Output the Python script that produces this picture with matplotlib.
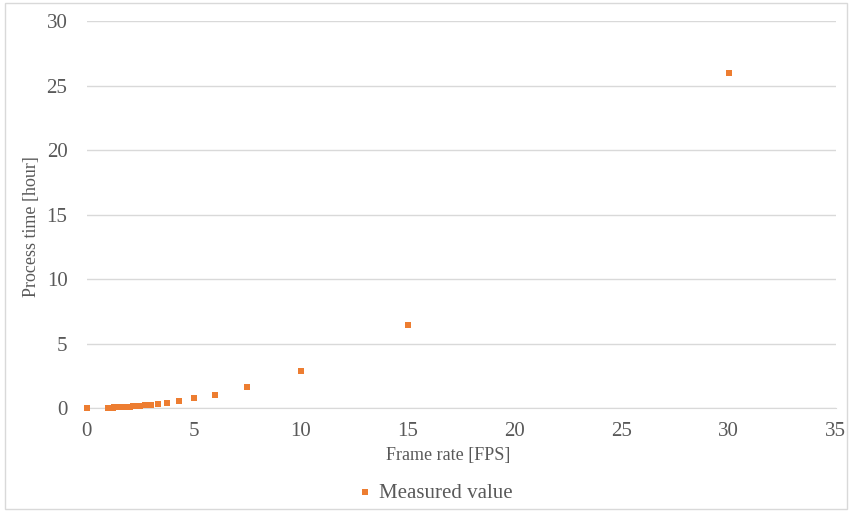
import matplotlib.pyplot as plt
from matplotlib.patches import Rectangle

# frame rate [FPS] and measured process time [hour]
frame_rate = [0, 30, 15, 10, 7.5, 6, 5, 4.29, 3.75, 3.33, 3.0, 2.73, 2.5, 2.31, 2.14, 2.0,
              1.88, 1.76, 1.67, 1.58, 1.5, 1.43, 1.36, 1.30, 1.25, 1.2, 1.15, 1.11, 1.07, 1.03, 1.0]
process_time = [0, 26.0, 6.4, 2.9, 1.65, 1.05, 0.75, 0.55, 0.42, 0.33, 0.27, 0.22, 0.18, 0.16,
                0.13, 0.12, 0.10, 0.09, 0.08, 0.07, 0.065, 0.06, 0.055, 0.05, 0.045, 0.042,
                0.04, 0.036, 0.033, 0.031, 0.029]

plt.rcParams['font.family'] = ['Liberation Serif', 'DejaVu Serif']
text_color = '#595959'

fig = plt.figure(figsize=(8.52, 5.12), dpi=100)
ax = fig.add_axes([0.102, 0.203, 0.879, 0.756])

ax.scatter(frame_rate, process_time, marker='s', s=18, color='#ED7D31',
           linewidths=0, label='Measured value', zorder=3, clip_on=False)

ax.set_xlim(0, 35)
ax.set_ylim(0, 30)
ax.set_xticks(range(0, 36, 5))
ax.set_yticks(range(0, 31, 5))
ax.grid(axis='y', color='#D9D9D9', linewidth=1)
ax.set_axisbelow(True)
for s in ['top', 'right', 'left']:
    ax.spines[s].set_visible(False)
ax.spines['bottom'].set_color('#D9D9D9')
ax.tick_params(length=0, labelsize=15, colors=text_color)
ax.tick_params(axis='x', pad=10)
ax.tick_params(axis='y', pad=14)

ax.set_xlabel('Frame rate [FPS]', fontsize=13, color=text_color)
ax.set_ylabel('Process time [hour]', fontsize=13, color=text_color)
ax.xaxis.set_label_coords(0.482, -0.10)
ax.yaxis.set_label_coords(-0.063, 0.468)

leg = fig.legend(loc='center', bbox_to_anchor=(0.51, 0.037), frameon=False,
                 fontsize=15, handletextpad=0.3, handlelength=0.8, markerscale=1.0)
for t in leg.get_texts():
    t.set_color(text_color)

fig.patches.append(Rectangle((0.006, 0.006), 0.988, 0.988, transform=fig.transFigure,
                             fill=False, edgecolor='#D9D9D9', linewidth=1))

fig.savefig('out.png', dpi=100)
